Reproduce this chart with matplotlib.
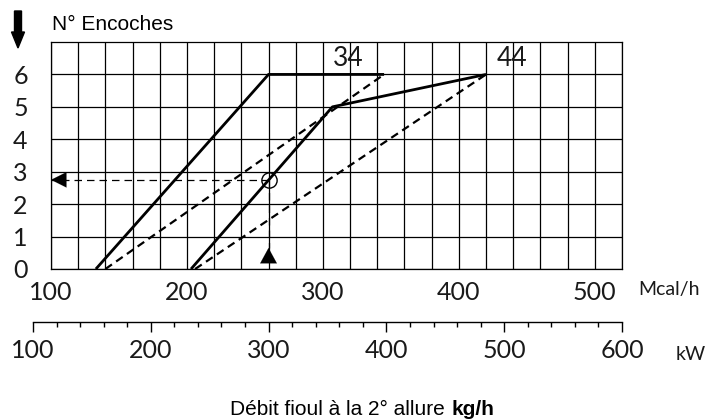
import numpy as np
import matplotlib
matplotlib.use("Agg")
import matplotlib.pyplot as plt
from matplotlib.patches import FancyArrow

# Mcal/h vs. number of notches ("encoches"), burner sizes 34 and 44
enc_ticks = [0, 1, 2, 3, 4, 5, 6]
mcal_ticks = [100, 200, 300, 400, 500]
kw_ticks = [100, 200, 300, 400, 500, 600]

b34_solid_mcal = [133, 260, 345]
b34_solid_enc = [0, 6, 6]
b34_dash_mcal = [140, 345]
b34_dash_enc = [0, 6]

b44_solid_mcal = [203, 307, 420]
b44_solid_enc = [0, 5, 6]
b44_dash_mcal = [206, 420]
b44_dash_enc = [0, 6]

# example reading
read_mcal = 260
read_enc = 2.75

W, H = 724, 420
tech = dict(family="Lato", weight="normal", color="#1a1a1a")

fig = plt.figure(figsize=(W / 100, H / 100), dpi=100)
ax = fig.add_axes([51 / W, (H - 269) / H, (622 - 51) / W, (269 - 42) / H])

ax.set_xlim(100, 520)
ax.set_ylim(0, 7)
ax.set_xticks(mcal_ticks)
ax.set_xticks(np.arange(100, 521, 20), minor=True)
ax.set_yticks(enc_ticks)
ax.set_xticklabels([str(v) for v in mcal_ticks], fontsize=18, **tech)
ax.set_yticklabels([str(v) for v in enc_ticks], fontsize=18, **tech)
ax.tick_params(which="both", length=0)
ax.tick_params(axis="x", pad=9)
ax.tick_params(axis="y", pad=22)
for lab in ax.get_yticklabels():
    lab.set_horizontalalignment("center")
ax.grid(which="both", color="black", lw=0.9)
ax.set_axisbelow(True)
for s in ax.spines.values():
    s.set_linewidth(0.9)

# curves
ax.plot(b34_solid_mcal, b34_solid_enc, color="black", lw=2.0, solid_capstyle="butt")
ax.plot(b34_dash_mcal, b34_dash_enc, color="black", lw=1.6, dashes=(3.6, 2.3))
ax.plot(b44_solid_mcal, b44_solid_enc, color="black", lw=2.0, solid_capstyle="butt")
ax.plot(b44_dash_mcal, b44_dash_enc, color="black", lw=1.6, dashes=(3.6, 2.3))

ax.text(319, 6.5, "34", fontsize=19, ha="center", va="center", **tech)
ax.text(439, 6.5, "44", fontsize=19, ha="center", va="center", **tech)

# reading helper lines
ax.plot([read_mcal, 100], [read_enc, read_enc], color="black", lw=0.9, dashes=(6, 4))
ax.plot([read_mcal, read_mcal], [read_enc, 0.65], color="black", lw=0.9, dashes=(6, 4))
ax.plot([read_mcal], [read_enc], marker="o", ms=11, mfc="none", mec="black", mew=1.0)
ax.annotate("", xy=(100, read_enc), xytext=(15, 0), textcoords="offset pixels",
            xycoords="data",
            arrowprops=dict(arrowstyle="-|>,head_length=1.1,head_width=0.55",
                            color="black", lw=0.1, shrinkA=0, shrinkB=0))
ax.annotate("", xy=(read_mcal, 0.65), xytext=(0, -15), textcoords="offset pixels",
            xycoords="data",
            arrowprops=dict(arrowstyle="-|>,head_length=1.1,head_width=0.6",
                            color="black", lw=0.1, shrinkA=0, shrinkB=0))

# kW scale
ax2 = fig.add_axes([33 / W, (H - 322) / H, (622 - 33) / W, 0.0001])
ax2.set_xlim(100, 600)
ax2.set_xticks(kw_ticks)
ax2.set_xticks(np.arange(100, 601, 20), minor=True)
ax2.set_xticklabels([str(v) for v in kw_ticks], fontsize=18, **tech)
ax2.set_yticks([])
for side in ["left", "right", "top"]:
    ax2.spines[side].set_visible(False)
ax2.spines["bottom"].set_linewidth(1.0)
ax2.patch.set_visible(False)
ax2.tick_params(axis="x", which="major", length=7.2, width=1.0, direction="out", pad=5)
ax2.tick_params(axis="x", which="minor", length=3.6, width=1.0, direction="out")

# unit texts and titles
fig.text(638 / W, (H - 290) / H, "Mcal/h", fontsize=14, va="center", ha="left", **tech)
fig.text(676 / W, (H - 355) / H, "kW", fontsize=14, va="center", ha="left", **tech)
fig.text(52 / W, (H - 30) / H, "N° Encoches", fontsize=15, family="Liberation Sans",
         va="baseline", ha="left")
fig.text(450 / W, (H - 415) / H, "Débit fioul à la 2° allure ", fontsize=15,
         family="Liberation Sans", va="baseline", ha="right")
fig.text(452 / W, (H - 415) / H, "kg/h", fontsize=15, family="Liberation Sans",
         weight="bold", va="baseline", ha="left")

# big down arrow top-left
fig.patches.append(FancyArrow(18 / W, (H - 11) / H, 0, -37 / H, width=7 / W,
                              head_width=13 / W, head_length=16 / H,
                              length_includes_head=True, color="black",
                              transform=fig.transFigure, figure=fig))

fig.savefig("out.png", dpi=100)
